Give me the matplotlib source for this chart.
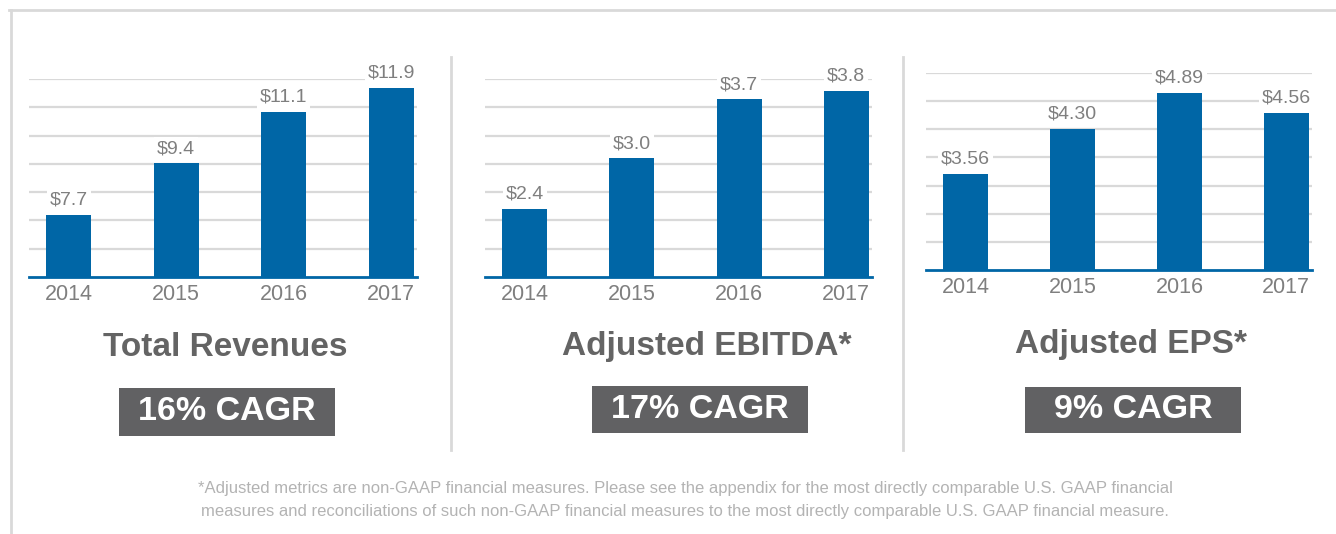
import matplotlib
matplotlib.use('Agg')
import matplotlib.pyplot as plt
import numpy as np
from matplotlib.lines import Line2D
from matplotlib.patches import Rectangle

# data
years = ['2014', '2015', '2016', '2017']
revenues = [7.7, 9.4, 11.1, 11.9]
ebitda = [2.4, 3.0, 3.7, 3.8]
eps = [3.56, 4.30, 4.89, 4.56]
rev_labels = ['$7.7', '$9.4', '$11.1', '$11.9']
ebitda_labels = ['$2.4', '$3.0', '$3.7', '$3.8']
eps_labels = ['$3.56', '$4.30', '$4.89', '$4.56']
titles = ['Total Revenues', 'Adjusted EBITDA*', 'Adjusted EPS*']
cagr = ['16% CAGR', '17% CAGR', '9% CAGR']
footnote = ('*Adjusted metrics are non-GAAP financial measures. Please see the appendix for the most directly comparable U.S. GAAP financial\n'
            'measures and reconciliations of such non-GAAP financial measures to the most directly comparable U.S. GAAP financial measure.')

plt.rcParams['font.family'] = ['Liberation Sans', 'DejaVu Sans']

W, H = 1336, 534
BLUE = '#0066a6'
GRID = '#d9d9d9'
GRAY_TXT = '#7f7f7f'

fig = plt.figure(figsize=(W / 100, H / 100), dpi=100)

def fx(px):
    return px / W

def fy(py):
    return 1 - py / H

# panel layout in pixels: left, right, top gridline, baseline, y range
panels = [
    (29, 417, 79, 277, 5.654, 12.187, revenues, rev_labels),
    (485, 872, 79, 277, 1.593, 3.942, ebitda, ebitda_labels),
    (926, 1312, 73, 270, 1.993, 5.214, eps, eps_labels),
]

x = np.arange(len(years))
for left, right, top, base, ymin, ytop, vals, labs in panels:
    ax = fig.add_axes([fx(left), fy(base), fx(right - left), (base - top) / H])
    ax.bar(x, vals, width=0.42, color=BLUE, zorder=2)
    ax.set_xlim(-0.37, 3.24)
    ax.set_ylim(ymin, ytop)
    ax.set_yticks(np.linspace(ymin, ytop, 8)[1:])
    ax.set_axisbelow(True)
    ax.yaxis.grid(True, color=GRID, lw=1.6)
    ax.tick_params(axis='y', length=0, labelleft=False)
    ax.set_xticks(x)
    ax.set_xticklabels(years, fontsize=15.5, color=GRAY_TXT)
    ax.tick_params(axis='x', length=0, pad=5)
    for s in ax.spines.values():
        s.set_visible(False)
    ax.axhline(ymin, color=BLUE, lw=2, zorder=3, clip_on=False)
    for xi, v, lab in zip(x, vals, labs):
        ax.annotate(lab, (xi, v), xytext=(0, 4.5), textcoords='offset points',
                    ha='center', va='bottom', fontsize=14, color=GRAY_TXT,
                    bbox=dict(boxstyle='square,pad=0.15', fc='white', ec='none'),
                    annotation_clip=False, zorder=4)

# titles
title_pos = [(225, 347), (707, 347), (1131, 345)]
for (cx, cy), t in zip(title_pos, titles):
    fig.text(fx(cx), fy(cy), t, ha='center', va='center', fontsize=24,
             fontweight='bold', color='#646464')

# CAGR boxes
boxes = [(119, 335, 388, 436), (592, 808, 386, 433), (1025, 1241, 387, 433)]
for (l, r, t, b), txt in zip(boxes, cagr):
    fig.patches.append(Rectangle((fx(l), fy(b)), fx(r - l), (b - t) / H,
                                 transform=fig.transFigure, fc='#616163', ec='none'))
    fig.text(fx((l + r) / 2), fy((t + b) / 2), txt, ha='center', va='center',
             fontsize=24.5, fontweight='bold', color='white')

# frame + separators
fig.lines.append(Line2D([fx(9), 1], [fy(10), fy(10)], transform=fig.transFigure, color=GRID, lw=2))
fig.lines.append(Line2D([fx(10.5), fx(10.5)], [0, fy(10)], transform=fig.transFigure, color=GRID, lw=2))
for sx in (451, 903):
    fig.lines.append(Line2D([fx(sx), fx(sx)], [fy(57), fy(450)], transform=fig.transFigure, color=GRID, lw=2))

fig.text(fx(685), fy(500), footnote, ha='center', va='center', fontsize=12,
         color='#b3b3b3', linespacing=1.6)

fig.savefig('out.png', dpi=100)
